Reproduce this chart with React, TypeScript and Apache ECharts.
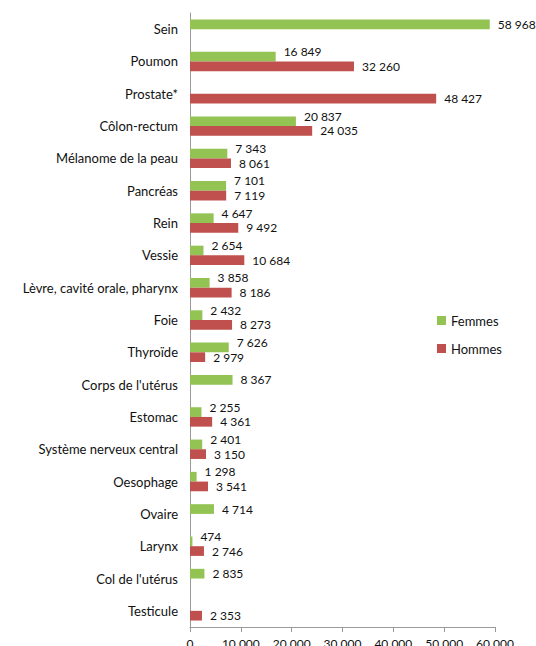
import React, { useEffect, useRef } from "react";
import * as echarts from "echarts";

const categories = [
  "Sein",
  "Poumon",
  "Prostate*",
  "Côlon-rectum",
  "Mélanome de la peau",
  "Pancréas",
  "Rein",
  "Vessie",
  "Lèvre, cavité orale, pharynx",
  "Foie",
  "Thyroïde",
  "Corps de l'utérus",
  "Estomac",
  "Système nerveux central",
  "Oesophage",
  "Ovaire",
  "Larynx",
  "Col de l'utérus",
  "Testicule",
];

const femmes: (number | null)[] = [
  58968, 16849, null, 20837, 7343, 7101, 4647, 2654, 3858, 2432, 7626, 8367,
  2255, 2401, 1298, 4714, 474, 2835, null,
];

const hommes: (number | null)[] = [
  null, 32260, 48427, 24035, 8061, 7119, 9492, 10684, 8186, 8273, 2979, null,
  4361, 3150, 3541, null, 2746, null, 2353,
];

const xTicks = [0, 10000, 20000, 30000, 40000, 50000, 60000];

const fmt = (v: number) =>
  String(Math.round(v)).replace(/\B(?=(\d{3})+(?!\d))/g, " ");

const FONT = "Lato";

export default function App() {
  const ref = useRef<HTMLDivElement>(null);
  useEffect(() => {
    if (!ref.current) return;
    const chart = echarts.init(ref.current, undefined, { renderer: "svg" });
    const labelBase = {
      show: true,
      position: "right" as const,
      distance: 8,
      color: "#111",
      fontSize: 12,
      fontFamily: FONT,
      formatter: (p: any) => fmt(p.value),
    };
    chart.setOption({
      animation: false,
      backgroundColor: "#ffffff",
      grid: { left: 190, right: 41, top: 13, bottom: 53 },
      legend: {
        orient: "vertical",
        left: 437,
        top: 314,
        padding: 0,
        icon: "rect",
        itemWidth: 9,
        itemHeight: 9,
        itemGap: 15,
        textStyle: { fontFamily: FONT, fontSize: 13, color: "#111" },
        data: ["Femmes", "Hommes"],
      },
      xAxis: {
        type: "value",
        min: 0,
        max: xTicks[xTicks.length - 1],
        interval: 10000,
        splitLine: { show: false },
        axisLine: { show: true, lineStyle: { color: "#9a9a9a" } },
        axisTick: { show: true, length: 5, lineStyle: { color: "#9a9a9a" } },
        axisLabel: {
          margin: 10,
          fontFamily: FONT,
          fontSize: 12,
          color: "#111",
          formatter: (v: number) => fmt(v),
        },
      },
      yAxis: {
        type: "category",
        inverse: true,
        data: categories,
        axisLine: { show: true, lineStyle: { color: "#9a9a9a" } },
        axisTick: { show: false },
        axisLabel: {
          margin: 12,
          fontFamily: FONT,
          fontSize: 13,
          color: "#111",
        },
      },
      series: [
        {
          name: "Femmes",
          type: "bar",
          barGap: "0%",
          barCategoryGap: "40%",
          itemStyle: { color: "#92c353" },
          data: femmes.map((v, i) => ({
            value: v,
            label: {
              ...labelBase,
              offset: [0, hommes[i] != null ? -5 : 0],
            },
          })),
        },
        {
          name: "Hommes",
          type: "bar",
          barGap: "0%",
          barCategoryGap: "40%",
          itemStyle: { color: "#c0504d" },
          data: hommes.map((v) => ({
            value: v,
            label: { ...labelBase },
          })),
        },
      ],
    });
    return () => chart.dispose();
  }, []);
  return (
    <div
      ref={ref}
      style={{ position: "absolute", left: 0, top: 0, width: 536, height: 680 }}
    />
  );
}
